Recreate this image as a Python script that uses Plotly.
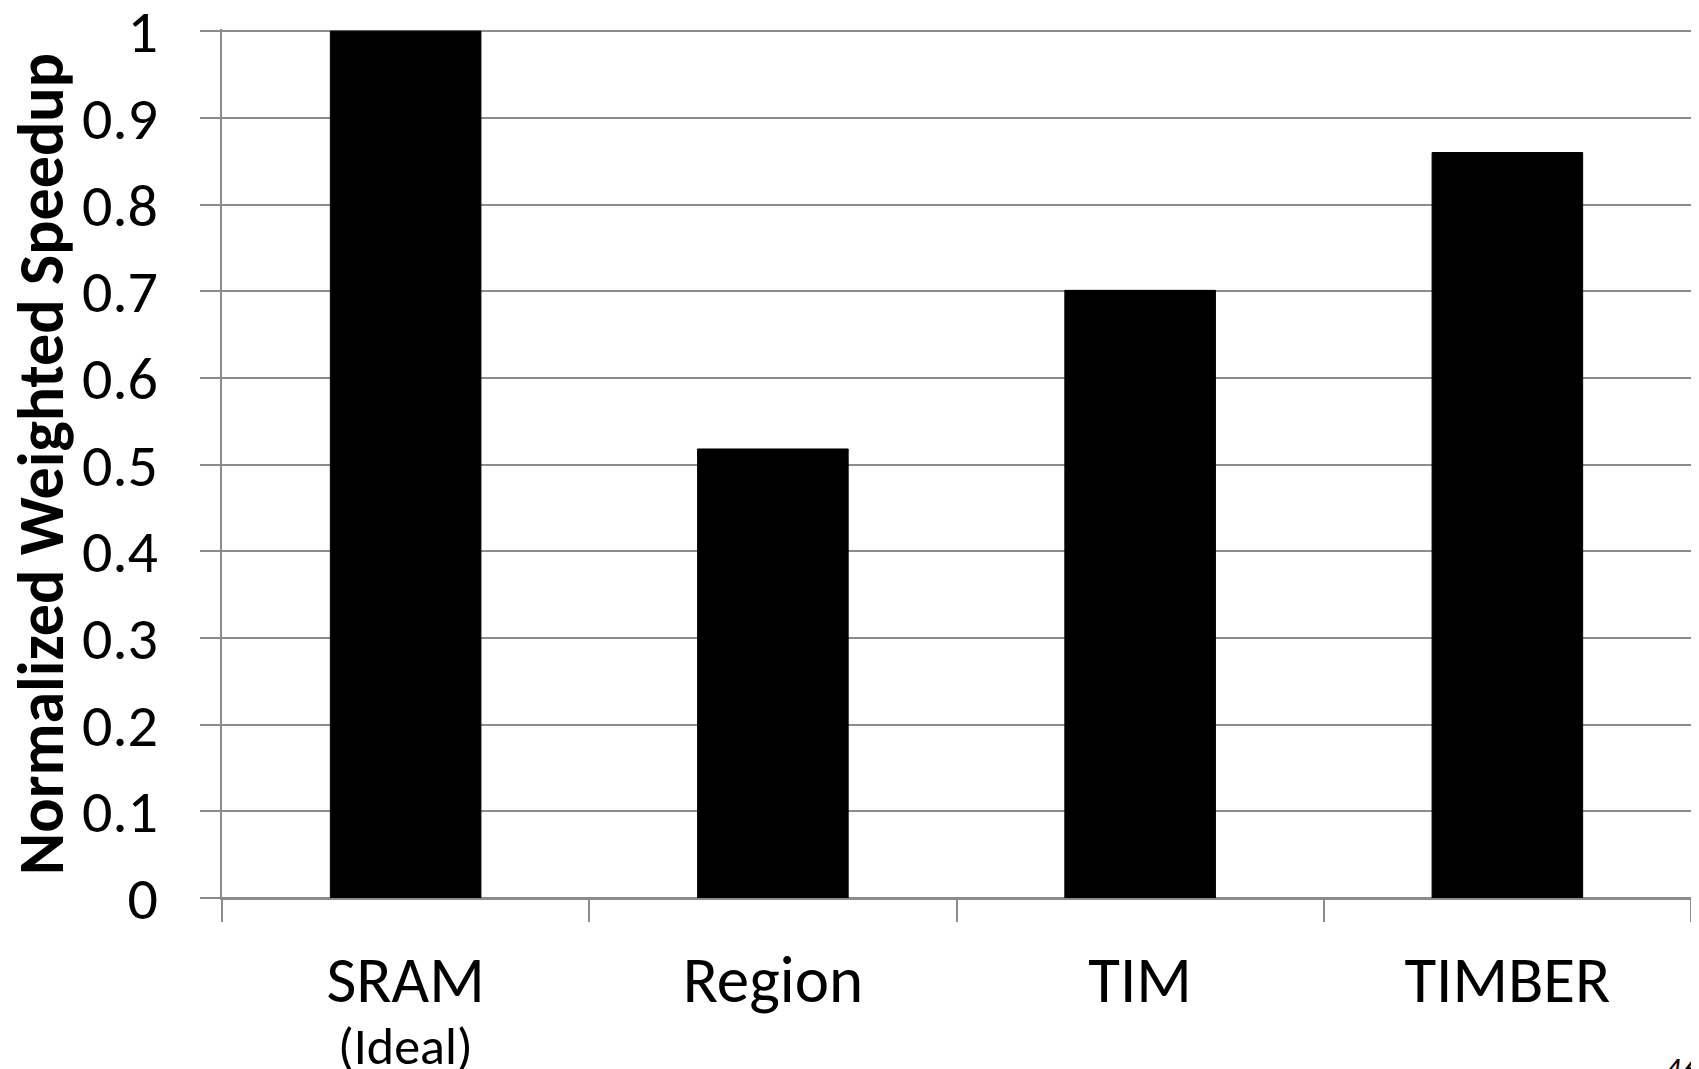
import plotly.graph_objects as go

categories = ["SRAM", "Region", "TIM", "TIMBER"]
category_labels = ["SRAM", "Region", "TIM", "TIMBER"]
sub_label = "(Ideal)"
y_title = "Normalized Weighted Speedup"
speedup = [1.0, 0.518, 0.701, 0.86]
y_ticks = [0, 0.1, 0.2, 0.3, 0.4, 0.5, 0.6, 0.7, 0.8, 0.9, 1]

FONT = "Carlito, Lato, sans-serif"
GRID = "#8c8c8c"

fig = go.Figure(
    go.Bar(
        x=categories,
        y=speedup,
        width=0.41,
        marker=dict(color="#000000", line=dict(color="#000000", width=1)),
    )
)

# page body has an 8px default margin, so the figure is sized to fit the window
fig.update_layout(
    width=1691,
    height=1061,
    margin=dict(l=214, r=8, t=21.3, b=171.4, pad=0, autoexpand=False),
    plot_bgcolor="white",
    paper_bgcolor="white",
    showlegend=False,
    font=dict(family=FONT, color="black"),
)

fig.update_xaxes(
    tickmode="array",
    tickvals=categories,
    ticktext=category_labels,
    tickson="boundaries",
    ticks="outside",
    ticklen=22,
    tickwidth=2,
    tickcolor=GRID,
    showline=True,
    linecolor=GRID,
    linewidth=2,
    showgrid=False,
    automargin=False,
    tickfont=dict(size=65, family=FONT, color="black"),
    ticklabelstandoff=24,
)

fig.update_yaxes(
    range=[0, 1.0025],
    tickmode="array",
    tickvals=y_ticks,
    ticktext=[f"{v:g}" for v in y_ticks],
    ticks="outside",
    ticklen=20,
    tickwidth=2,
    tickcolor=GRID,
    showline=True,
    linecolor=GRID,
    linewidth=2,
    showgrid=True,
    gridcolor=GRID,
    gridwidth=2,
    zeroline=True,
    zerolinecolor=GRID,
    zerolinewidth=2,
    automargin=False,
    ticklabeloverflow="allow",
    tickfont=dict(size=60, family=FONT, color="black"),
    ticklabelstandoff=30,
)

# y-axis title as a rotated annotation so it can sit closer to the page edge
fig.add_annotation(
    text=f"<b>{y_title}</b>",
    xref="paper",
    yref="paper",
    x=-0.1236,
    y=0.5,
    xanchor="center",
    yanchor="middle",
    textangle=-90,
    showarrow=False,
    font=dict(size=64, family=FONT, color="black"),
)

fig.add_annotation(
    text=sub_label,
    x=categories[0],
    xref="x",
    yref="paper",
    y=-0.1704,
    xanchor="center",
    yanchor="middle",
    showarrow=False,
    font=dict(size=52, family=FONT, color="black"),
)

fig.add_annotation(
    text="<i>46</i>",
    xref="paper",
    yref="paper",
    x=1.006,
    y=-0.173,
    xanchor="right",
    yanchor="top",
    showarrow=False,
    font=dict(size=34, family=FONT, color="black"),
)

fig.write_html("out.html")
